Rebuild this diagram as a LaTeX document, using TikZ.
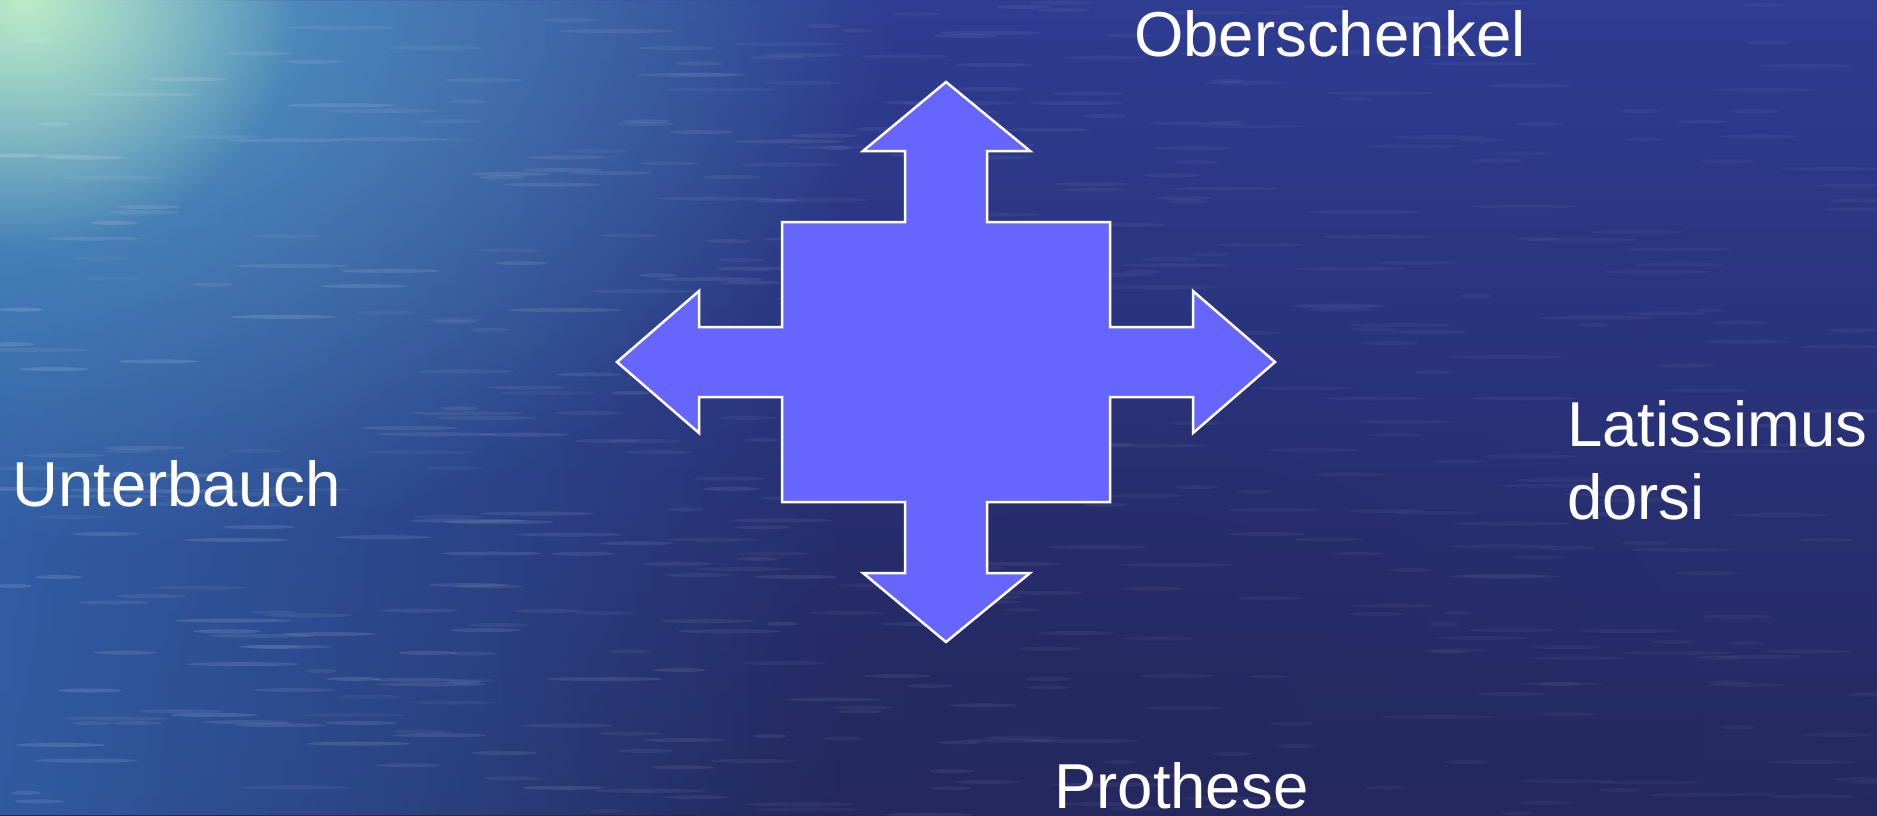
\documentclass[tikz,border=0pt]{standalone}
\usepackage{fontspec}
\setmainfont{Liberation Sans}
\usetikzlibrary{fadings}
\definecolor{bgtop}{HTML}{2E3C92}
\definecolor{bgbot}{HTML}{24285E}
\definecolor{leftblue}{HTML}{3468B2}
\definecolor{glowcyan}{HTML}{6FC8DA}
\definecolor{glowgreen}{HTML}{C8F5C8}
\definecolor{crossfill}{HTML}{6666FF}
\tikzfading[name=radfade, inner color=transparent!0, outer color=transparent!100]
\tikzfading[name=fadeleft, left color=transparent!0, right color=transparent!100]
\tikzset{
  lbl/.style={text=white, inner sep=0pt, anchor=base west, font=\fontsize{63.5}{74}\selectfont},
  crossstyle/.style={fill=crossfill, draw=white, line width=2.5pt, line join=miter},
  streak/.style={fill=white}
}
\begin{document}
\begin{tikzpicture}[x=1pt,y=-1pt]
\useasboundingbox (0,0) rectangle (1877,815);
% background
\shade[top color=bgtop, bottom color=bgbot] (0,0) rectangle (1877,815);
\fill[leftblue, opacity=0.8, path fading=fadeleft] (0,0) rectangle (850,815);
\fill[glowcyan, opacity=0.6, path fading=radfade] (-700,-550) rectangle (900,550);
\fill[glowgreen, opacity=0.9, path fading=radfade] (-250,-250) rectangle (300,250);
\fill[bgbot, opacity=0.5, path fading=radfade] (500,350) rectangle (1700,1100);
% waves
\pgfmathsetseed{7}
\foreach \i in {1,...,500}{
  \pgfmathsetmacro{\xx}{rnd*1877}
  \pgfmathsetmacro{\yy}{rnd*815}
  \pgfmathsetmacro{\ll}{15+rnd*45}
  \pgfmathsetmacro{\op}{0.04+0.10*rnd*max(0,1-\xx/1300)}
  \fill[streak, opacity=\op] (\xx,\yy) ellipse ({\ll} and 2);
}
% cross shape
\coordinate (C) at (946,362);
\draw[crossstyle]
  (946,82) -- (1030,151) -- (987,151) -- (987,222) -- (1110,222)
  -- (1110,327) -- (1193,327) -- (1193,291) -- (1275,362) -- (1193,433) -- (1193,397) -- (1110,397)
  -- (1110,502) -- (987,502) -- (987,573) -- (1030,573) -- (946,642) -- (863,573) -- (905,573) -- (905,502)
  -- (782,502) -- (782,397) -- (699,397) -- (699,433) -- (617,362) -- (699,291) -- (699,327) -- (782,327)
  -- (782,222) -- (905,222) -- (905,151) -- (863,151) -- cycle;
% labels
\node[lbl] (ober) at (1134,56) {Oberschenkel};
\node[lbl] (unter) at (12,506) {Unterbauch};
\node[lbl] (lat1) at (1567,446) {Latissimus};
\node[lbl] (lat2) at (1567,519) {dorsi};
\node[lbl] (proth) at (1054,808) {Prothese};
\end{tikzpicture}
\end{document}
